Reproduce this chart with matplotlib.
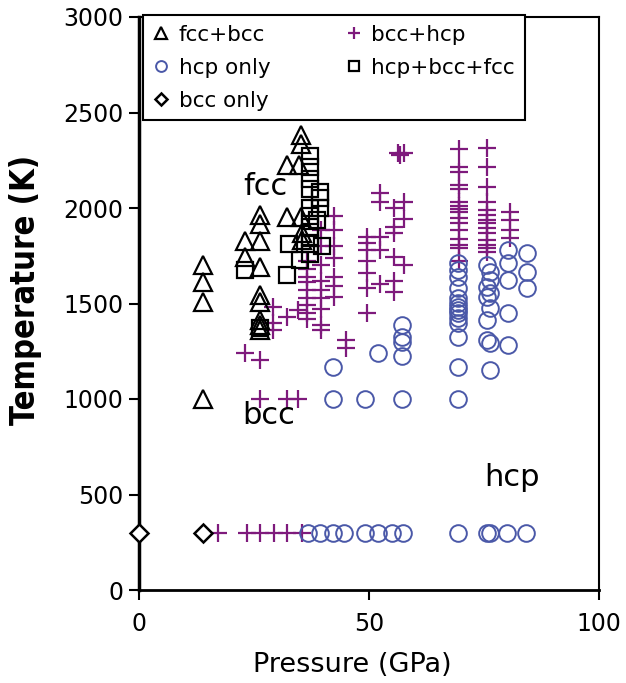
import numpy as np
import matplotlib
matplotlib.use('Agg')
import matplotlib.pyplot as plt

# fcc+bcc (triangles)
fcc_bcc_p = [14, 14, 14, 14, 35.2, 35.2, 32.1, 34.8, 26.3, 26.3, 32.1, 35.3,
             23, 26.3, 23, 26.3, 26.3, 26.3, 26.3, 26.3, 26.3, 35.5, 35.5]
fcc_bcc_t = [1700, 1610, 1510, 1000, 2380, 2335, 2225, 2225, 1965, 1915, 1955, 1955,
             1825, 1825, 1745, 1690, 1545, 1510, 1415, 1385, 1360, 1870, 1830]

# bcc+hcp (plus)
bcc_hcp_p = [17.2, 23.5, 26.3, 29.3, 32.2, 35.4,
             26.3, 32.1, 34.6,
             23, 26.3,
             29.2, 29.2, 29.2, 32.1, 34.6,
             36.5, 36.5, 36.5, 36.5, 36.5, 36.5, 36.5, 36.5, 36.5,
             39.5, 39.5, 39.5, 39.5, 39.5, 39.5, 39.5, 39.5, 39.5,
             42.4, 42.4, 42.4, 42.4, 42.4, 42.4, 42.4,
             45, 45,
             49.5, 49.5, 49.5, 49.5, 49.5, 49.5, 49.5,
             52.4, 52.4, 52.4, 52.4, 52.4,
             55.5, 55.5, 55.5, 55.5, 55.5, 55.5,
             57.5, 57.5, 57.5,
             56.3, 57.6, 56.8,
             69.6, 69.6, 69.6, 69.6, 69.6, 69.6, 69.6, 69.6, 69.6, 69.6, 69.6, 69.6,
             69.6, 69.6, 69.6, 69.6,
             75.6, 75.6, 75.6, 75.6, 75.6, 75.6, 75.6, 75.6, 75.6, 75.6, 75.6, 75.6,
             75.6, 75.6,
             80.6, 80.6, 80.6, 80.6]
bcc_hcp_t = [300, 300, 300, 300, 300, 300,
             1000, 1000, 1000,
             1240, 1205,
             1480, 1400, 1360, 1430, 1465,
             1720, 1680, 1640, 1610, 1570, 1530, 1490, 1450, 1420,
             1885, 1800, 1700, 1620, 1570, 1530, 1470, 1390, 1360,
             1960, 1885, 1800, 1740, 1640, 1590, 1535,
             1310, 1265,
             1850, 1815, 1780, 1720, 1660, 1580, 1450,
             2077, 2033, 1850, 1780, 1600,
             2000, 1900, 1870, 1745, 1620, 1560,
             2030, 1940, 1700,
             2290, 2290, 2280,
             2310, 2215, 2190, 2120, 2100, 2030, 2010, 1995, 1980, 1950, 1920, 1885,
             1840, 1805, 1790, 1720,
             2313, 2216, 2112, 2033, 1990, 1963, 1937, 1920, 1894, 1868, 1832, 1806,
             1789, 1771,
             1981, 1937, 1885, 1841]

# hcp only (circles)
hcp_p = [36.8, 39.3, 42.2, 44.6, 49.1, 52, 55, 57.4, 69.4, 75.6, 76.3, 80, 84.1,
         42.2, 49.1, 57.1, 69.4,
         42.2, 52, 57.1, 57.1, 57.1, 57.1,
         69.4, 69.4, 69.4, 69.4, 69.4, 69.4, 69.4, 69.4, 69.4, 69.4, 69.4, 69.4, 69.4,
         75.6, 76.3, 76.3, 75.6, 76.3, 75.6, 76.3, 75.6, 75.6, 76.3, 76.3,
         80.3, 80.3, 80.3, 80.3, 80.3,
         84.3, 84.3, 84.3]
hcp_t = [300, 300, 300, 300, 300, 300, 300, 300, 300, 300, 300, 300, 300,
         1000, 1000, 1000, 1000,
         1170, 1240, 1390, 1325, 1300, 1225,
         1710, 1675, 1640, 1580, 1527, 1501, 1484, 1466, 1449, 1423, 1397, 1326, 1169,
         1702, 1667, 1623, 1588, 1553, 1536, 1475, 1414, 1309, 1292, 1152,
         1780, 1710, 1623, 1449, 1283,
         1763, 1667, 1580]

# hcp+bcc+fcc (squares)
hbf_p = [37.2, 37.2, 37.2, 37.2, 39.3, 39.3, 39.3, 37.2, 37.2, 37.2, 37.2, 37.2,
         38.6, 39.7, 37.2, 35, 32.5, 32.1, 23, 26.3]
hbf_t = [2270, 2215, 2150, 2100, 2085, 2050, 2000, 2000, 1960, 1900, 1850, 1810,
         1937, 1800, 1760, 1730, 1810, 1650, 1675, 1370]

# bcc only (diamonds)
bcc_p = [0, 14]
bcc_t = [300, 300]

purple = '#7e1a7c'
blue = '#4a58a8'

fig = plt.figure(figsize=(6.26, 6.83), dpi=100)
ax = fig.add_axes([139/626, 1 - 590/683, 460/626, 573/683])

h_plus, = ax.plot(bcc_hcp_p, bcc_hcp_t, '+', color=purple, ms=13, mew=1.6, linestyle='none')
h_circ, = ax.plot(hcp_p, hcp_t, 'o', mfc='none', mec=blue, ms=12, mew=1.4, linestyle='none')
h_sq, = ax.plot(hbf_p, hbf_t, 's', mfc='none', mec='black', ms=11, mew=1.6, linestyle='none')
h_tri, = ax.plot(fcc_bcc_p, fcc_bcc_t, '^', mfc='none', mec='black', ms=13, mew=1.6, linestyle='none')
h_dia, = ax.plot(bcc_p, bcc_t, 'D', mfc='white', mec='black', ms=9, mew=1.8,
                 linestyle='none', clip_on=False, zorder=5)

ax.set_xlim(0, 100)
ax.set_ylim(0, 3000)
ax.set_xticks([0, 50, 100])
ax.set_yticks(np.arange(0, 3001, 500))
ax.tick_params(labelsize=17, length=7, width=1.5, direction='out')
ax.tick_params(axis='x', pad=9)
ax.tick_params(axis='y', pad=4)
for side, lw in [('left', 2.5), ('bottom', 2.0), ('top', 1.5), ('right', 1.5)]:
    ax.spines[side].set_linewidth(lw)

ax.set_xlabel('Pressure (GPa)', fontsize=19.5)
ax.set_ylabel('Temperature (K)', fontsize=23.5, fontweight='bold', fontstretch='condensed')
ax.xaxis.set_label_coords(0.463, -0.108)
ax.yaxis.set_label_coords(-0.21, 0.524)

ax.text(27.5, 2111, 'fcc', fontsize=22, ha='center', va='center')
ax.text(28.1, 916, 'bcc', fontsize=22, ha='center', va='center')
ax.text(81.1, 590, 'hcp', fontsize=22, ha='center', va='center')

leg = ax.legend([h_tri, h_circ, h_dia, h_plus, h_sq],
                ['fcc+bcc', 'hcp only', 'bcc only', 'bcc+hcp', 'hcp+bcc+fcc'],
                ncol=2, loc='upper left', bbox_to_anchor=(143/626, 1 - 15/683),
                bbox_transform=fig.transFigure, fontsize=15.5, markerscale=0.65,
                handlelength=0.8, handletextpad=0.4, columnspacing=3.5,
                labelspacing=0.6, borderpad=0.45, borderaxespad=0,
                fancybox=False, framealpha=1, edgecolor='black')
leg.get_frame().set_linewidth(1.5)

fig.savefig('out.png', dpi=100)
